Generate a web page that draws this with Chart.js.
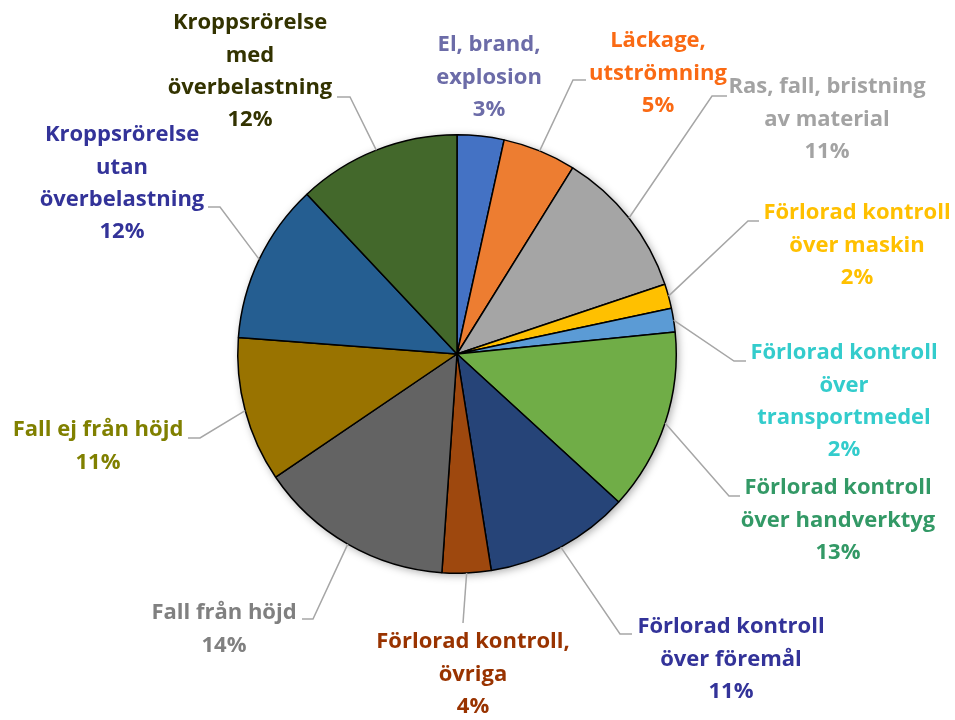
<!DOCTYPE html>
<html>
<head>
<meta charset="utf-8">
<script src="https://cdn.jsdelivr.net/npm/chart.js@4"></script>
<style>
  html, body { margin: 0; padding: 0; background: #fff; }
  #wrap { width: 955px; height: 720px; }
</style>
</head>
<body>
<div id="wrap"><canvas id="pie"></canvas></div>
<script>
const categories = [
    ['El, brand,', 'explosion'],
    ['Läckage,', 'utströmning'],
    ['Ras, fall, bristning', 'av material'],
    ['Förlorad kontroll', 'över maskin'],
    ['Förlorad kontroll', 'över', 'transportmedel'],
    ['Förlorad kontroll', 'över handverktyg'],
    ['Förlorad kontroll', 'över föremål'],
    ['Förlorad kontroll,', 'övriga'],
    ['Fall från höjd'],
    ['Fall ej från höjd'],
    ['Kroppsrörelse', 'utan', 'överbelastning'],
    ['Kroppsrörelse', 'med', 'överbelastning']
];
const shares = [3.45, 5.4, 11.0, 1.8, 1.75, 13.4, 10.7, 3.6, 14.4, 10.7, 11.8, 12.0];

const sliceColors = ['#4472C4', '#ED7D31', '#A5A5A5', '#FFC000', '#5B9BD5', '#70AD47',
                     '#264478', '#9E480E', '#636363', '#997300', '#255E91', '#43682B'];
const labelColors = ['#6C6CA8', '#FA6A14', '#A3A3A3', '#FFC000', '#33CCCC', '#339966',
                     '#333399', '#993300', '#808080', '#808000', '#333399', '#333300'];

// label block placement: centre x, centre y of first line, and leader elbow / end
const labelPlaces = [
    { x: 489, y: 45 },
    { x: 658, y: 41, elbow: [573, 80], end: [586, 80] },
    { x: 827, y: 87, elbow: [712, 96], end: [727, 96] },
    { x: 857, y: 213, elbow: [748, 221], end: [759, 221] },
    { x: 844, y: 353, elbow: [734, 361], end: [746, 361] },
    { x: 838, y: 488, elbow: [729, 496], end: [740, 496] },
    { x: 731, y: 627, elbow: [620, 634], end: [632, 634] },
    { x: 473, y: 642, end: [463, 623] },
    { x: 224, y: 613, elbow: [313, 619], end: [302, 619] },
    { x: 98, y: 430, elbow: [200, 438], end: [188, 438] },
    { x: 122, y: 135, elbow: [220, 207], end: [208, 207] },
    { x: 250, y: 23, elbow: [350, 97], end: [337, 97] }
];

const pieShadow = {
    id: 'pieShadow',
    beforeDatasetsDraw(chart) {
        const arc = chart.getDatasetMeta(0).data[0];
        if (!arc) return;
        const ctx = chart.ctx;
        ctx.save();
        ctx.shadowColor = 'rgba(0,0,0,0.35)';
        ctx.shadowBlur = 9;
        ctx.shadowOffsetX = 2;
        ctx.shadowOffsetY = 2;
        ctx.fillStyle = '#fff';
        ctx.beginPath();
        ctx.arc(arc.x, arc.y, arc.outerRadius, 0, Math.PI * 2);
        ctx.fill();
        ctx.restore();
    }
};

const outsideLabels = {
    id: 'outsideLabels',
    afterDatasetsDraw(chart) {
        const ctx = chart.ctx;
        const meta = chart.getDatasetMeta(0);
        const total = shares.reduce((a, b) => a + b, 0);
        ctx.save();
        meta.data.forEach((arc, i) => {
            const place = labelPlaces[i];
            // leader line from the middle of the slice's outer edge
            if (place.end) {
                const mid = (arc.startAngle + arc.endAngle) / 2;
                const sx = arc.x + Math.cos(mid) * arc.outerRadius;
                const sy = arc.y + Math.sin(mid) * arc.outerRadius;
                ctx.strokeStyle = '#A6A6A6';
                ctx.lineWidth = 1.5;
                ctx.beginPath();
                ctx.moveTo(sx, sy);
                if (place.elbow) ctx.lineTo(place.elbow[0], place.elbow[1]);
                ctx.lineTo(place.end[0], place.end[1]);
                ctx.stroke();
            }
            const lines = categories[i].concat([Math.round(shares[i] / total * 100) + '%']);
            ctx.fillStyle = labelColors[i];
            ctx.font = 'bold 22px "Open Sans", Lato, sans-serif';
            ctx.textAlign = 'center';
            ctx.textBaseline = 'middle';
            lines.forEach((t, k) => {
                ctx.fillText(t, place.x, place.y + k * 32.3);
            });
        });
        ctx.restore();
    }
};

new Chart(document.getElementById('pie'), {
    type: 'pie',
    data: {
        labels: categories.map(c => c.join(' ')),
        datasets: [{
            data: shares,
            backgroundColor: sliceColors,
            borderColor: '#000',
            borderWidth: 1.5
        }]
    },
    options: {
        responsive: true,
        maintainAspectRatio: false,
        animation: false,
        layout: {
            padding: { top: 134, bottom: 146, left: 237, right: 278 }
        },
        plugins: {
            legend: { display: false },
            tooltip: { enabled: false }
        }
    },
    plugins: [pieShadow, outsideLabels]
});
</script>
</body>
</html>
